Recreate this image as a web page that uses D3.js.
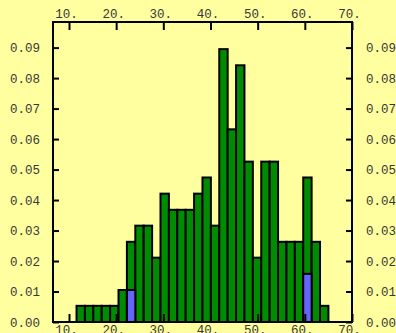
<!DOCTYPE html>
<html>
<head>
<meta charset="utf-8">
<script src="https://cdn.jsdelivr.net/npm/d3@7"></script>
<style>
html,body{margin:0;padding:0;background:#ffffa0;overflow:hidden;}
svg{display:block;}
</style>
</head>
<body>
<svg id="chart" width="396" height="333"></svg>
<script>
// ---- data ----
const binStart = 11.6;
const binWidth = 1.78;
const densities = [0.0053,0.0053,0.0053,0.0053,0.0053,0.0105,0.0263,0.0316,0.0316,0.0211,
                   0.0421,0.0368,0.0368,0.0368,0.0421,0.0474,0.0316,0.0895,0.0632,0.0842,
                   0.0526,0.0211,0.0526,0.0526,0.0263,0.0263,0.0263,0.0474,0.0263,0.0053];
const highlightBins = [6, 27];
const highlightValues = [0.0105, 0.0158];
const xTicks = [10, 20, 30, 40, 50, 60, 70];
const xTickLabels = ["10.", "20.", "30.", "40.", "50.", "60.", "70."];
const yTicks = [0, 0.01, 0.02, 0.03, 0.04, 0.05, 0.06, 0.07, 0.08, 0.09];
const yTickLabels = ["0.00","0.01","0.02","0.03","0.04","0.05","0.06","0.07","0.08","0.09"];
const xDomain = [6.61, 70];
const yDomain = [0, 0.0984];

// ---- layout ----
const L = 53, R = 352, T = 22, B = 322;
const svg = d3.select("#chart");
const x = d3.scaleLinear().domain(xDomain).range([L, R]);
const y = d3.scaleLinear().domain(yDomain).range([B, T]);

const bins = densities.map((v, i) => ({x0: binStart + i * binWidth, x1: binStart + (i + 1) * binWidth, v}));

svg.append("g").selectAll("rect").data(bins).join("rect")
  .attr("x", d => x(d.x0))
  .attr("y", d => y(d.v))
  .attr("width", d => x(d.x1) - x(d.x0))
  .attr("height", d => y(0) - y(d.v))
  .attr("fill", "#008c00")
  .attr("stroke", "#000")
  .attr("stroke-width", 2);

const hl = highlightBins.map((b, i) => ({x0: bins[b].x0, x1: bins[b].x1, v: highlightValues[i]}));
svg.append("g").selectAll("rect").data(hl).join("rect")
  .attr("x", d => x(d.x0))
  .attr("y", d => y(d.v))
  .attr("width", d => x(d.x1) - x(d.x0))
  .attr("height", d => y(0) - y(d.v))
  .attr("fill", "#6464ff")
  .attr("stroke", "#000")
  .attr("stroke-width", 2);

// ---- axes ----
const font = "'Liberation Mono', 'Courier New', monospace";
function styleAxis(g) {
  g.select(".domain").remove();
  g.selectAll(".tick line").attr("stroke", "#000").attr("stroke-width", 2);
  g.selectAll(".tick text").attr("fill", "#383838").style("font-family", font).style("font-size", "12.5px");
}
const xa = (axis) => axis.tickValues(xTicks).tickFormat((d, i) => xTickLabels[i]).tickSizeOuter(0);
const ya = (axis) => axis.tickValues(yTicks).tickFormat((d, i) => yTickLabels[i]).tickSizeOuter(0);

svg.append("g").attr("transform", `translate(0,${T})`)
  .call(xa(d3.axisTop(x)).tickSize(-8).tickPadding(4))
  .call(styleAxis)
  .call(g => g.selectAll(".tick text").attr("dx", -3));
svg.append("g").attr("transform", `translate(0,${B})`)
  .call(xa(d3.axisBottom(x)).tickSize(-8).tickPadding(3))
  .call(styleAxis)
  .call(g => g.selectAll(".tick text").attr("dx", -3));
svg.append("g").attr("transform", `translate(${L},0)`)
  .call(ya(d3.axisLeft(y)).tickSize(-6).tickPadding(13))
  .call(styleAxis);
svg.append("g").attr("transform", `translate(${R},0)`)
  .call(ya(d3.axisRight(y)).tickSize(-6).tickPadding(14))
  .call(styleAxis);

// frame
svg.append("rect").attr("x", L).attr("y", T).attr("width", R - L).attr("height", B - T)
  .attr("fill", "none").attr("stroke", "#000").attr("stroke-width", 2);
</script>
</body>
</html>
